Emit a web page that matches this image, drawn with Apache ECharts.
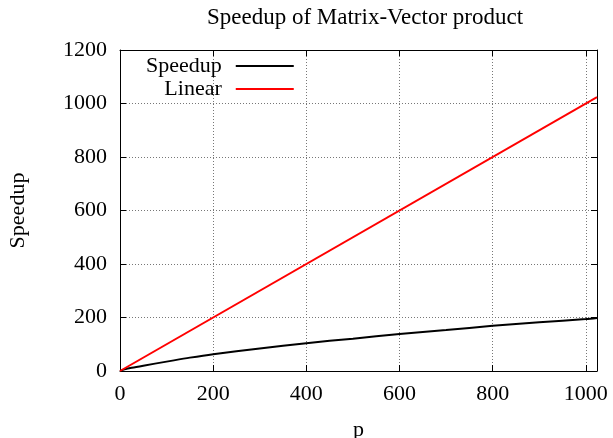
<!DOCTYPE html>
<html><head><meta charset="utf-8">
<script src="https://cdn.jsdelivr.net/npm/echarts@6/dist/echarts.min.js"></script>
<style>html,body{margin:0;padding:0;background:#fff;overflow:hidden}#c{width:613px;height:438px}</style>
</head><body><div id="c"></div>
<script>
var titleText = 'Speedup of Matrix-Vector product';
var xName = 'p';
var yName = 'Speedup';
var seriesNames = ['Speedup', 'Linear'];
var speedupP = [0, 10, 25, 50, 100, 150, 200, 300, 400, 500, 600, 700, 800, 900, 1000, 1024];
var speedupS = [0, 6, 12, 20, 35, 50, 63, 84, 104, 121, 138, 153, 169, 182, 194, 198];
var linearP = [0, 1024];
var linearS = [0, 1024];
var xTicks = [0, 200, 400, 600, 800, 1000];
var yTicks = [0, 200, 400, 600, 800, 1000, 1200];

var FONT = 'Liberation Serif';
var FS = 22;
function pairs(a, b) { return a.map(function (v, i) { return [v, b[i]]; }); }
var chart = echarts.init(document.getElementById('c'), null, {renderer: 'canvas', width: 613, height: 438});
var axisCommon = {
  axisLine: {show: true, onZero: false, lineStyle: {color: '#000', width: 1}},
  axisTick: {show: true, inside: true, length: 6, lineStyle: {color: '#000'}},
};
chart.setOption({
  animation: false,
  backgroundColor: '#fff',
  title: {text: titleText, left: 360, textAlign: 'center', top: 1,
    textStyle: {fontFamily: FONT, fontSize: 23, fontWeight: 'normal', color: '#000'}},
  grid: {left: 120, top: 50, width: 477, height: 321, containLabel: false, outerBoundsMode: 'none'},
  legend: {
    orient: 'vertical', left: 141, top: 50, align: 'right', itemGap: 1,
    itemWidth: 58, itemHeight: 16, icon: 'path://M0,7 L58,7 L58,9 L0,9 Z',
    data: seriesNames,
    formatter: function (n) { return '{a|' + n + '}'; },
    textStyle: {fontFamily: FONT, fontSize: FS, color: '#000',
      rich: {a: {width: 90, align: 'right', padding: [0, 9, 0, 0], fontFamily: FONT, fontSize: FS, color: '#000'}}}
  },
  xAxis: [
    Object.assign({type: 'value', min: 0, max: 1024, interval: 200, position: 'bottom',
      name: xName, nameLocation: 'middle', nameGap: 48,
      nameTextStyle: {fontFamily: FONT, fontSize: FS, color: '#000'},
      axisLabel: {fontFamily: FONT, fontSize: FS, color: '#000', margin: 12,
        formatter: function (v) { return xTicks.indexOf(v) >= 0 ? String(v) : ''; }},
      splitLine: {show: true, lineStyle: {color: '#777', type: [1, 2], width: 1}}}, axisCommon),
    Object.assign({type: 'value', min: 0, max: 1024, interval: 200, position: 'top',
      axisLabel: {show: false}, splitLine: {show: false}}, axisCommon)
  ],
  yAxis: [
    Object.assign({type: 'value', min: 0, max: 1200, interval: 200, position: 'left',
      name: yName, nameLocation: 'middle', nameGap: 91, nameRotate: 90,
      nameTextStyle: {fontFamily: FONT, fontSize: FS, color: '#000'},
      axisLabel: {fontFamily: FONT, fontSize: FS, color: '#000', margin: 13,
        formatter: function (v) { return yTicks.indexOf(v) >= 0 ? String(v) : ''; }},
      splitLine: {show: true, lineStyle: {color: '#777', type: [1, 2], width: 1}}}, axisCommon),
    Object.assign({type: 'value', min: 0, max: 1200, interval: 200, position: 'right',
      axisLabel: {show: false}, splitLine: {show: false}}, axisCommon)
  ],
  series: [
    {name: seriesNames[0], type: 'line', data: pairs(speedupP, speedupS), smooth: 0.3,
      showSymbol: false, symbol: 'none', lineStyle: {color: '#000', width: 2}, itemStyle: {color: '#000'}},
    {name: seriesNames[1], type: 'line', data: pairs(linearP, linearS),
      showSymbol: false, symbol: 'none', lineStyle: {color: '#ff0000', width: 2}, itemStyle: {color: '#ff0000'}}
  ]
});
</script></body></html>
